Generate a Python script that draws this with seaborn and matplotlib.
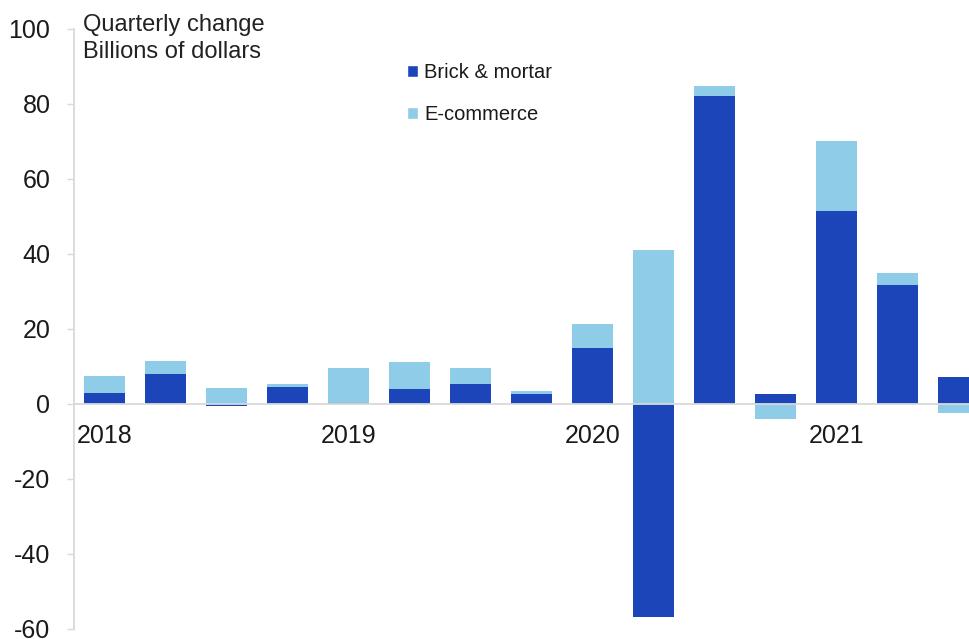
import matplotlib
matplotlib.use("Agg")
import matplotlib.pyplot as plt
from matplotlib.patches import Patch
import seaborn as sns
import numpy as np

# --- DATOS ---
quarters = ["2018Q1", "2018Q2", "2018Q3", "2018Q4",
            "2019Q1", "2019Q2", "2019Q3", "2019Q4",
            "2020Q1", "2020Q2", "2020Q3", "2020Q4",
            "2021Q1", "2021Q2", "2021Q3"]
brick = [2.7, 8.0, -0.7, 4.3, 0.1, 4.0, 5.3, 2.6, 14.9, -57.0, 82.0, 2.5, 51.3, 31.5, 7.1]
ecom = [4.7, 3.3, 4.1, 1.0, 9.5, 7.0, 4.2, 0.7, 6.2, 40.9, 2.7, -4.1, 18.7, 3.2, -2.5]
year_ticks = [0, 4, 8, 12]
year_labels = ["2018", "2019", "2020", "2021"]

# --- ESTILO ---
DARK = "#1C45BA"
LIGHT = "#8ECCE8"
GRIS = "#d9d9d9"
TEXTO = "#1a1a1a"

sns.set_style("white")
plt.rcParams["font.family"] = ["Liberation Sans", "DejaVu Sans"]
plt.rcParams["text.color"] = TEXTO
plt.rcParams["axes.unicode_minus"] = False

fig = plt.figure(figsize=(9.69, 6.39), dpi=100)
ax = fig.add_axes([74 / 969, 10.5 / 639, 895 / 969, 600 / 639])

# e-commerce se apila sobre brick solo si tienen el mismo signo
b = np.array(brick)
e = np.array(ecom)
ecom_bottom = np.where(np.sign(b) == np.sign(e), b, 0.0)

sns.barplot(x=quarters, y=brick, order=quarters, color=DARK, saturation=1,
            width=0.667, linewidth=0, errorbar=None, ax=ax)
sns.barplot(x=quarters, y=ecom, order=quarters, color=LIGHT, saturation=1,
            width=0.667, linewidth=0, errorbar=None, bottom=ecom_bottom, ax=ax)

ax.set_ylim(-60, 100)
ax.set_xlim(-0.5, 14.17)
ax.set_yticks(np.arange(-60, 101, 20))
ax.set_xticks(year_ticks)
ax.set_xticklabels(year_labels)
ax.set_xlabel("")
ax.set_ylabel("")

ax.spines["top"].set_visible(False)
ax.spines["right"].set_visible(False)
ax.spines["bottom"].set_position(("data", 0))
for s in ["left", "bottom"]:
    ax.spines[s].set_color(GRIS)
    ax.spines[s].set_linewidth(1.3)

ax.tick_params(axis="y", left=True, length=5, width=1, color=GRIS, pad=12,
               labelsize=18, labelcolor=TEXTO)
ax.tick_params(axis="x", bottom=False, length=0, pad=15, labelsize=18, labelcolor=TEXTO)

ax.text(0.01, 1.024, "Quarterly change\nBillions of dollars", transform=ax.transAxes,
        ha="left", va="top", fontsize=17, color="#222222", linespacing=1.3)

handles = [Patch(facecolor=DARK, label="Brick & mortar"),
           Patch(facecolor=LIGHT, label="E-commerce")]
ax.legend(handles=handles, loc="upper left", bbox_to_anchor=(0.372, 0.943),
          frameon=False, fontsize=14.5, handlelength=0.55, handleheight=0.55,
          handletextpad=0.3, labelspacing=1.15, borderpad=0, borderaxespad=0)

fig.savefig("out.png", dpi=100)
